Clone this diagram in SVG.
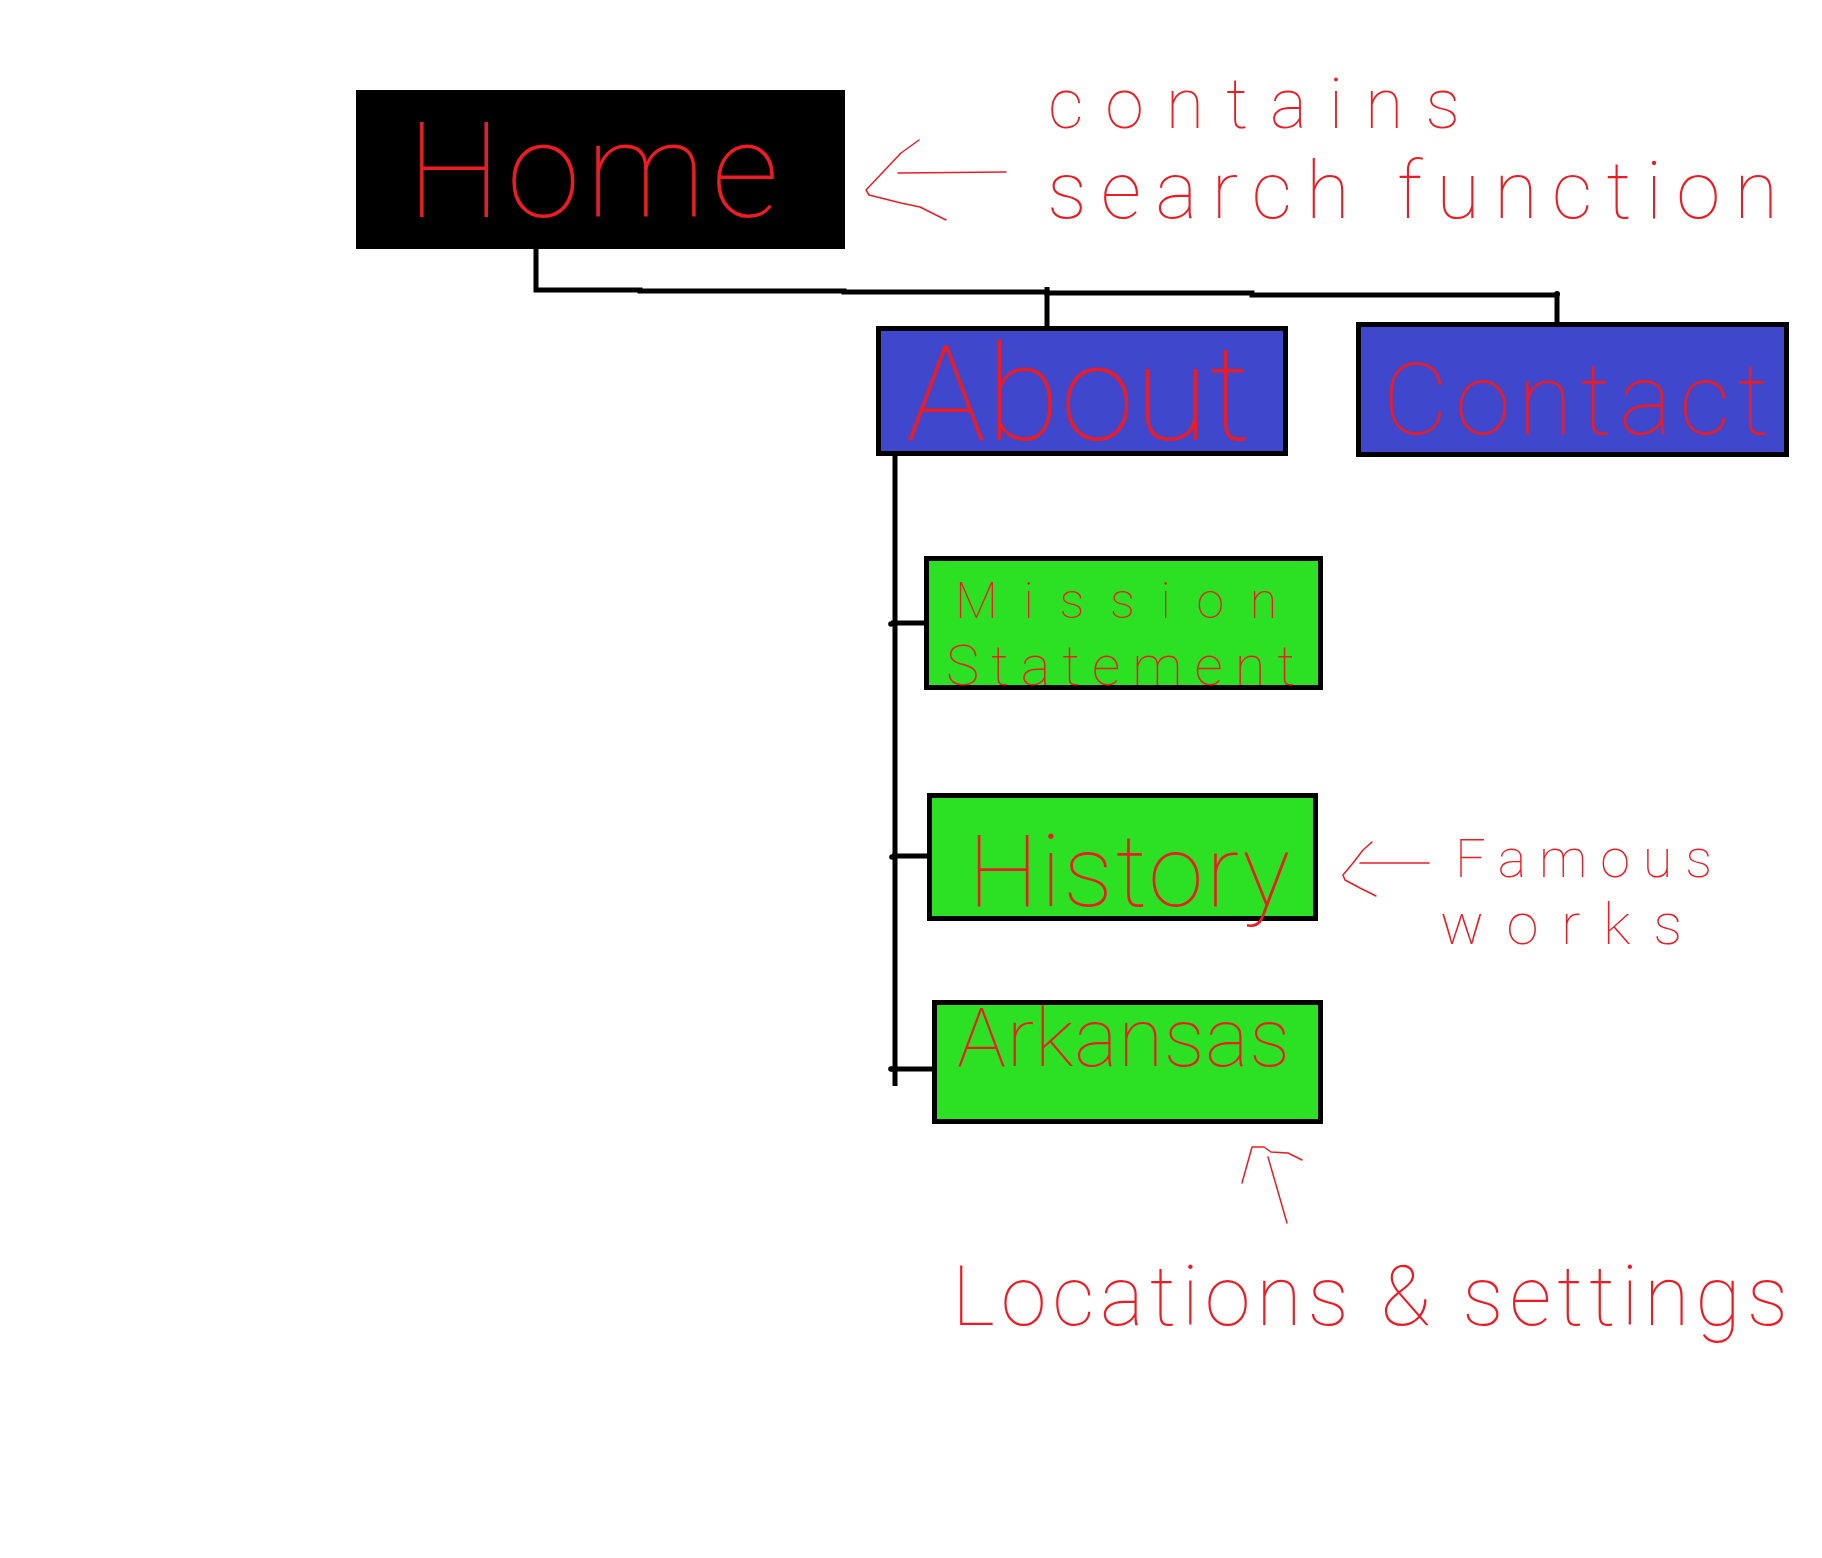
<svg xmlns="http://www.w3.org/2000/svg" width="1822" height="1558" viewBox="0 0 1822 1558">
<style>
.conn{fill:none;stroke:#000;stroke-width:5;stroke-linecap:butt}
.box{stroke:#000;stroke-width:5}
.blue{fill:#3f48cc}
.green{fill:#2ce123}
.lbl{fill:#ed1c24;font-family:Roboto,"Noto Sans","Liberation Sans",sans-serif;font-weight:100}
.ink{fill:none;stroke:#ed1c24;stroke-width:1.5;stroke-linejoin:round;stroke-linecap:round}
</style>
<rect width="1822" height="1558" fill="#fff"/>
<g id="connectors">
<path class="conn" d="M536,248 V290 H640 V291 H844 V292 H1047 V293 H1252 V295 H1559"/>
<path class="conn" d="M1047,287 V328"/>
<path class="conn" d="M1557,293 V324"/>
<path class="conn" d="M895,454 V1086"/>
<path class="conn" d="M891,623 H927"/>
<path class="conn" d="M892,856 H930"/>
<path class="conn" d="M891,1069 H935"/>
<circle cx="891" cy="624" r="2.8" fill="#000"/>
<circle cx="892" cy="857" r="2.8" fill="#000"/>
<circle cx="891" cy="1069" r="2.8" fill="#000"/>
<circle cx="1557" cy="294" r="3" fill="#000"/>
</g>
<g id="home">
<rect x="356" y="90" width="489" height="159" fill="#000"/>
<text class="lbl" x="407" y="217" font-size="134" textLength="372" lengthAdjust="spacing">Home</text>
</g>
<g id="about">
<rect class="box blue" x="878.5" y="328.5" width="407" height="125"/>
<text class="lbl" x="906" y="440" font-size="134" textLength="345" lengthAdjust="spacing">About</text>
</g>
<g id="contact">
<rect class="box blue" x="1358.5" y="324.5" width="428" height="130"/>
<text class="lbl" x="1383" y="434" font-size="100" textLength="386" lengthAdjust="spacing">Contact</text>
</g>
<g id="mission-statement">
<rect class="box green" x="926.5" y="558.5" width="394" height="129"/>
<text class="lbl" x="955" y="618" font-size="50" textLength="322" lengthAdjust="spacing">Mission</text>
<text class="lbl" x="946" y="685" font-size="56" textLength="349" lengthAdjust="spacing">Statement</text>
</g>
<g id="history">
<rect class="box green" x="929.5" y="795.5" width="386" height="123"/>
<text class="lbl" x="968" y="906" font-size="100" textLength="322" lengthAdjust="spacing">History</text>
</g>
<g id="arkansas">
<rect class="box green" x="934.5" y="1002.5" width="386" height="119"/>
<text class="lbl" x="957" y="1066" font-size="82" textLength="333" lengthAdjust="spacing">Arkansas</text>
</g>
<g id="note-search">
<path class="ink" d="M919,140 L901,153 L866,190 L869,195 L901,203 L920,207 L946,220"/>
<path class="ink" d="M898,173 L1006,172"/>
<text class="lbl" x="1048" y="128" font-size="70" textLength="412" lengthAdjust="spacing">contains</text>
<text class="lbl" x="1047" y="218" font-size="80" textLength="731" lengthAdjust="spacing">search function</text>
</g>
<g id="note-famous">
<path class="ink" d="M1372,842 L1363,850 L1353,863 L1343,875 L1345,880 L1360,888 L1376,896"/>
<path class="ink" d="M1360,863 L1429,863"/>
<text class="lbl" x="1455" y="877" font-size="54" textLength="257" lengthAdjust="spacing">Famous</text>
<text class="lbl" x="1440" y="944" font-size="58" textLength="242" lengthAdjust="spacing">works</text>
</g>
<g id="note-locations">
<path class="ink" d="M1242,1183 L1252,1147 L1264,1147 L1271,1152 L1288,1153 L1302,1160"/>
<path class="ink" d="M1268,1157 L1287,1223"/>
<text class="lbl" x="952" y="1325" font-size="83" textLength="836" lengthAdjust="spacing">Locations &amp; settings</text>
</g>
</svg>
